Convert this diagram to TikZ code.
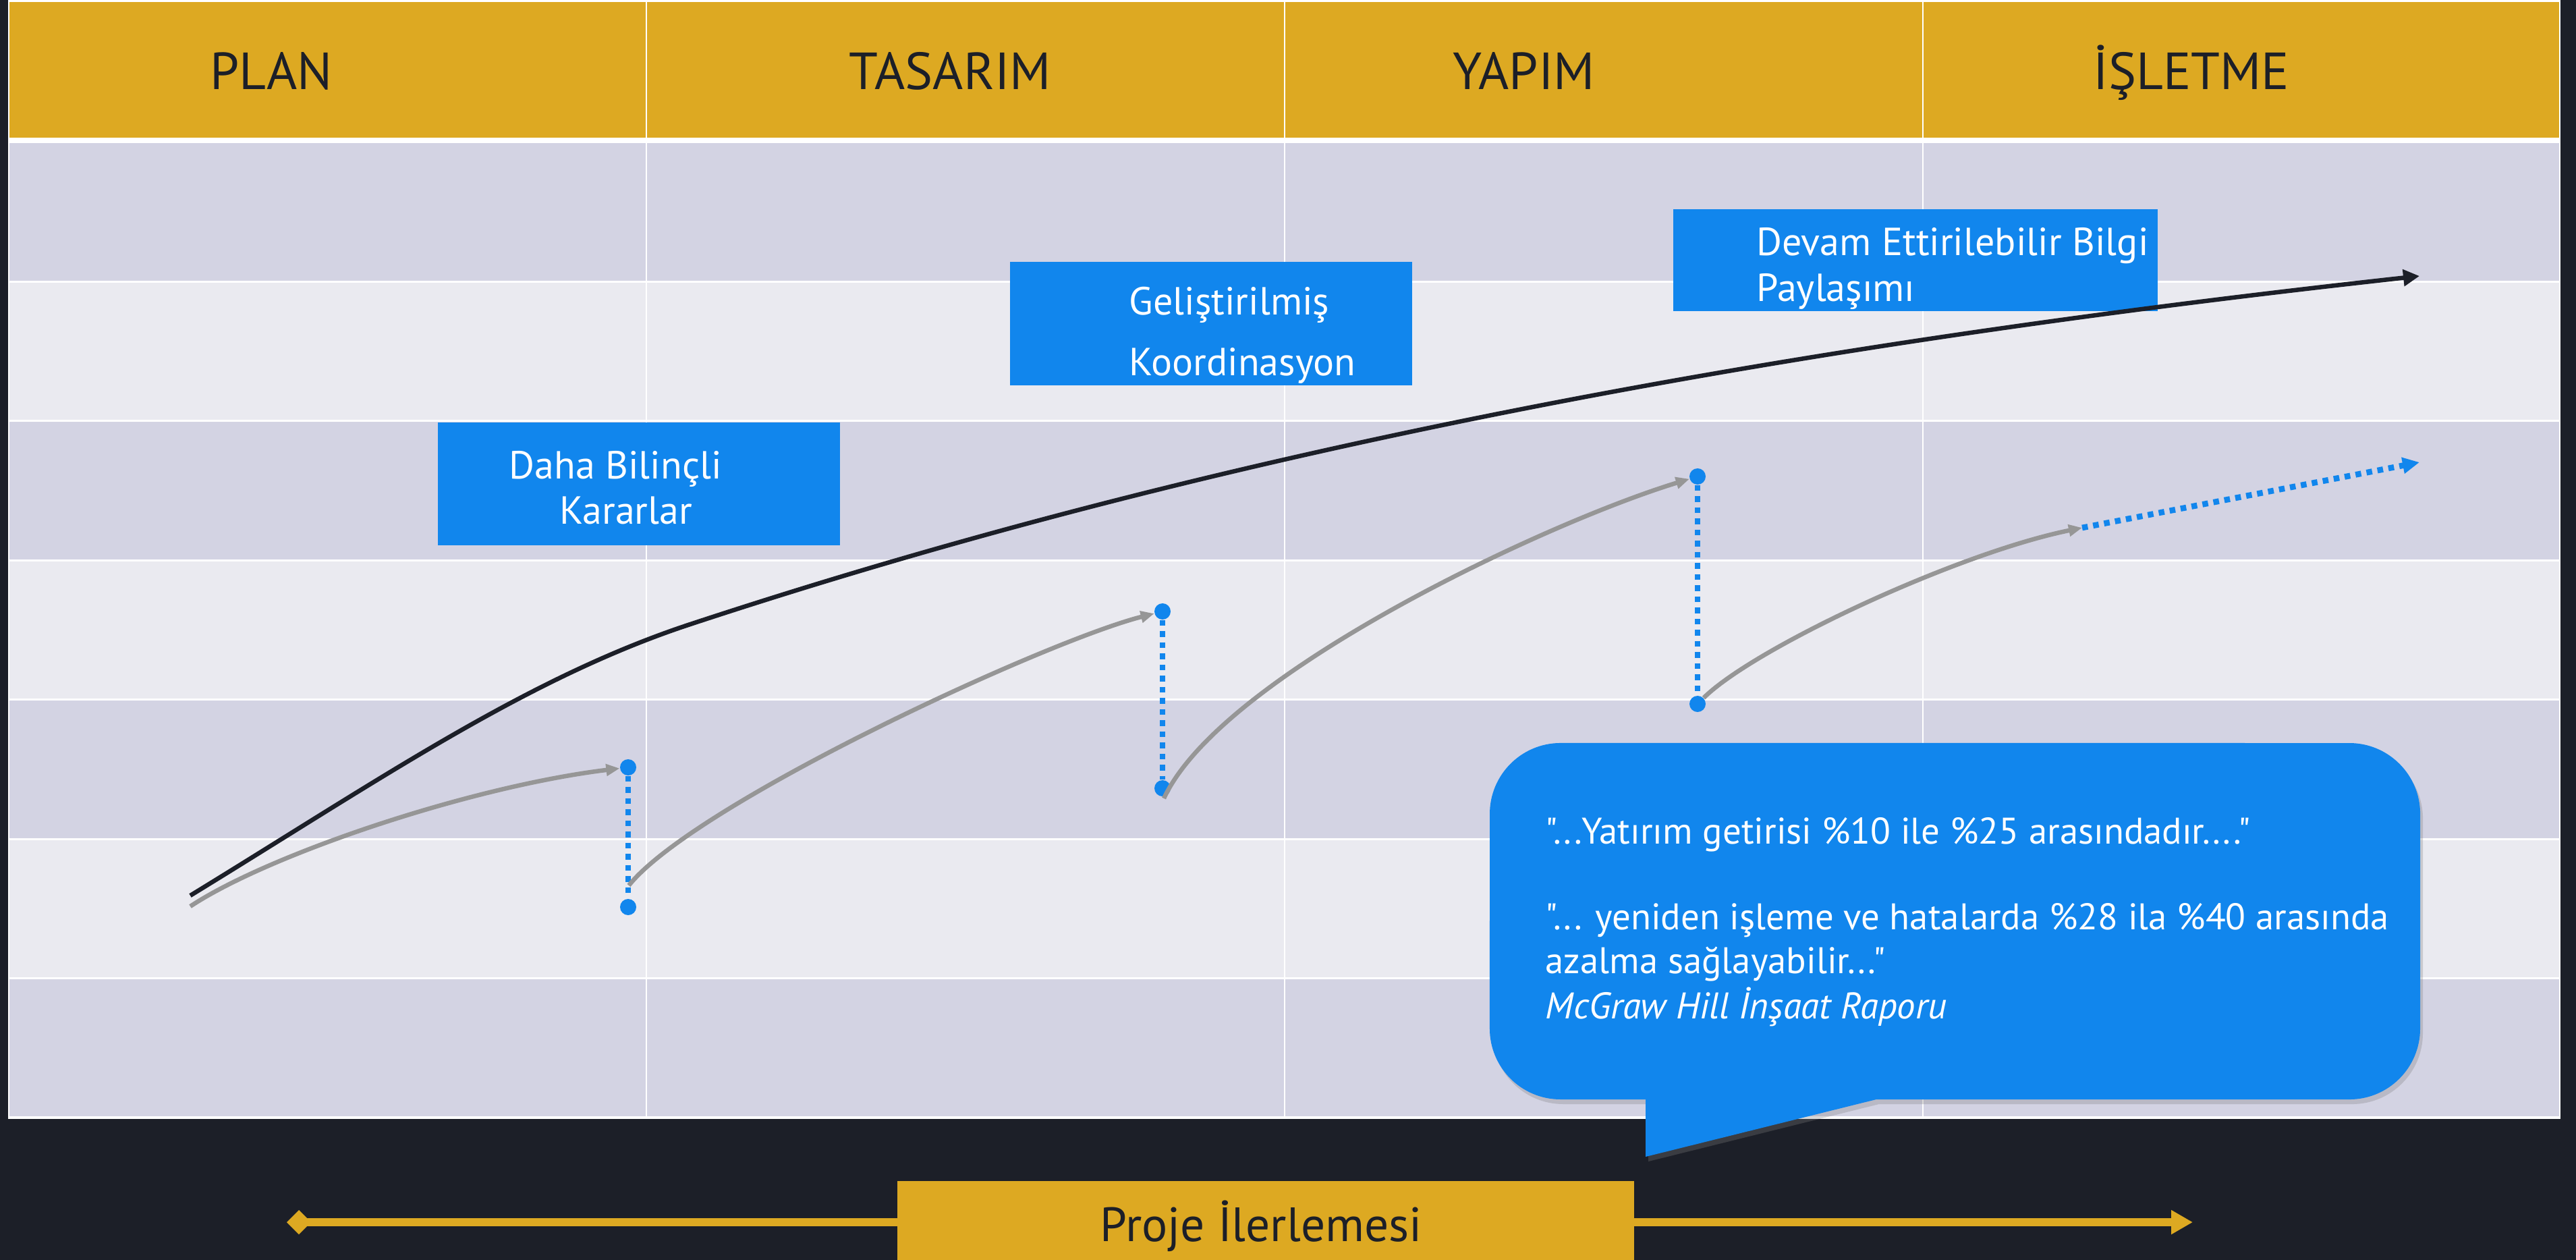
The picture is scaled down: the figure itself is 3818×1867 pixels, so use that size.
\documentclass[tikz,border=0pt]{standalone}
\usepackage{fontspec}
\setmainfont{PT Sans}
\newfontfamily\duzyazi{PT Sans}
\usepackage{xcolor}
\usepackage{tikz}
\usetikzlibrary{arrows.meta,shadows,positioning}
\definecolor{zemin}{HTML}{1C1F28}
\definecolor{altin}{HTML}{DDA922}
\definecolor{koyusatir}{HTML}{D3D3E3}
\definecolor{acksatir}{HTML}{EAEAF0}
\definecolor{mavi}{HTML}{1186ED}
\definecolor{gri}{HTML}{969696}
\tikzset{baslik/.style={anchor=base west,inner sep=0,text=zemin,font=\fontsize{22}{26}\selectfont}}
\tikzset{kutu/.style={fill=mavi,inner sep=0}}
\tikzset{kutuyazi/.style={anchor=base west,inner sep=0,text=white,font=\fontsize{16.5}{20}\selectfont}}
\tikzset{alinti/.style={anchor=base west,inner sep=0,text=white,font=\duzyazi\fontsize{15.6}{19}\selectfont}}
\tikzset{nokta/.style={circle,fill=mavi,inner sep=0,minimum size=0.24cm}}
\tikzset{egri/.style={gri,line width=0.065cm,-{Triangle[length=0.2cm,width=0.17cm]}}}
\tikzset{kesik/.style={mavi,line width=0.087cm,dash pattern=on 0.085cm off 0.08cm}}

\begin{document}
\begin{tikzpicture}[x=0.01cm,y=-0.01cm]
    \fill[zemin] (0,0) rectangle (3818,1867);
    \useasboundingbox (0,0) rectangle (3818,1867);

    % tablo
    \fill[white] (12,0) rectangle (3795,1658);
    \fill[altin] (14,3) rectangle (3793,204);
    \foreach \i/\renk in {0/koyusatir,1/acksatir,2/koyusatir,3/acksatir,4/koyusatir,5/acksatir,6/koyusatir}
        \fill[\renk] (14,{212.5+\i*206.4}) rectangle (3793,{209.5+(\i+1)*206.4});
    \foreach \x in {958,1904,2850}
        \draw[white,line width=0.025cm] (\x,3) -- (\x,1656);

    \node[baslik] (plan) at (311,133) {PLAN};
    \node[baslik] (tasarim) at (1258,133) {TASARIM};
    \node[baslik] (yapim) at (2153,133) {YAPIM};
    \node[baslik] (isletme) at (3102,133) {İŞLETME};

    % kutular
    \node[kutu,minimum width=5.96cm,minimum height=1.82cm] (kutu1) at (947,717) {};
    \node[kutu,minimum width=5.96cm,minimum height=1.83cm] (kutu2) at (1795,479.5) {};
    \node[kutu,minimum width=7.18cm,minimum height=1.51cm] (kutu3) at (2839,385.5) {};
    \node[kutuyazi] (bilincli) at (754,709) {Daha Bilinçli};
    \node[kutuyazi] (kararlar) at (829,776) {Kararlar};
    \node[kutuyazi] (gelismis) at (1673,466) {Geliştirilmiş};
    \node[kutuyazi] (koordinasyon) at (1673,557) {Koordinasyon};
    \node[kutuyazi] (devam) at (2603,379) {Devam Ettirilebilir Bilgi};
    \node[kutuyazi] (paylasim) at (2603,446) {Paylaşımı};

    % ana egri
    \coordinate (siyahbas) at (282,1327);
    \coordinate (siyahuc) at (3586,409);
    \draw[zemin,line width=0.065cm,-{Triangle[length=0.24cm,width=0.24cm]}] (siyahbas) .. controls (560,1157) and (780,1005) .. (1023,925) .. controls (1873,644.5) and (2736,502.5) .. (siyahuc);

    % noktalar
    \node[nokta] (nokta1u) at (931,1137) {};
    \node[nokta] (nokta1a) at (931,1344) {};
    \node[nokta] (nokta2u) at (1723,906) {};
    \node[nokta] (nokta2a) at (1723,1168) {};
    \node[nokta] (nokta3u) at (2516,706) {};
    \node[nokta] (nokta3a) at (2516,1043) {};
    \draw[kesik] (nokta1u) -- (nokta1a);
    \draw[kesik] (nokta2u) -- (nokta2a);
    \draw[kesik] (nokta3u) -- (nokta3a);

    % gri egriler
    \coordinate (egri1) at (282,1343);
    \coordinate (egri2) at (932,1312);
    \coordinate (egri3) at (1725,1183);
    \coordinate (egri4) at (3086,782);
    \coordinate (okucu) at (3586,685);
    \draw[egri] (egri1) .. controls (400,1265) and (700,1165) .. (nokta1u);
    \draw[egri] (egri2) .. controls (1030,1190) and (1550,950) .. (nokta2u);
    \draw[egri] (egri3) .. controls (1810,1000) and (2290,775) .. (nokta3u);
    \draw[egri] (nokta3a) .. controls (2600,960) and (2900,820) .. (egri4);
    \draw[kesik,-{Triangle[length=0.25cm,width=0.23cm]}] (egri4) -- (okucu);

    % balon
    \fill[mavi,drop shadow={opacity=0.3,shadow xshift=0.04cm,shadow yshift=-0.07cm}] (2439,1714) -- (2439,1629) -- (2313,1629) arc[start angle=270,end angle=180,radius=1.05cm] -- (2208,1206) arc[start angle=180,end angle=90,radius=1.05cm] -- (3482,1101) arc[start angle=90,end angle=0,radius=1.05cm] -- (3587,1524) arc[start angle=0,end angle=-90,radius=1.05cm] -- (2781,1629) -- cycle;
    \node[alinti] (getiri) at (2290,1250) {"...Yatırım getirisi \%10 ile \%25 arasındadır...."};
    \node[alinti] (hata1) at (2290,1377) {"... yeniden işleme ve hatalarda \%28 ila \%40 arasında};
    \node[alinti] (hata2) at (2290,1442) {azalma sağlayabilir..."};
    \node[alinti,font=\duzyazi\fontsize{15.6}{19}\selectfont\itshape] (kaynak) at (2290,1509) {McGraw Hill İnşaat Raporu};

    % ilerleme oku
    \coordinate (ilerbas) at (425,1811);
    \coordinate (ilerson) at (3250,1811);
    \draw[altin,line width=0.12cm,{Diamond[length=0.36cm,width=0.36cm]}-{Triangle[length=0.32cm,width=0.34cm]}] (ilerbas) -- (ilerson);
    \node[fill=altin,inner sep=0,minimum width=10.92cm,minimum height=1.2cm] (ilerleme) at (1876,1810) {};
    \node[baslik,font=\fontsize{20.3}{24}\selectfont] (proje) at (1630,1839) {Proje İlerlemesi};
\end{tikzpicture}
\end{document}
